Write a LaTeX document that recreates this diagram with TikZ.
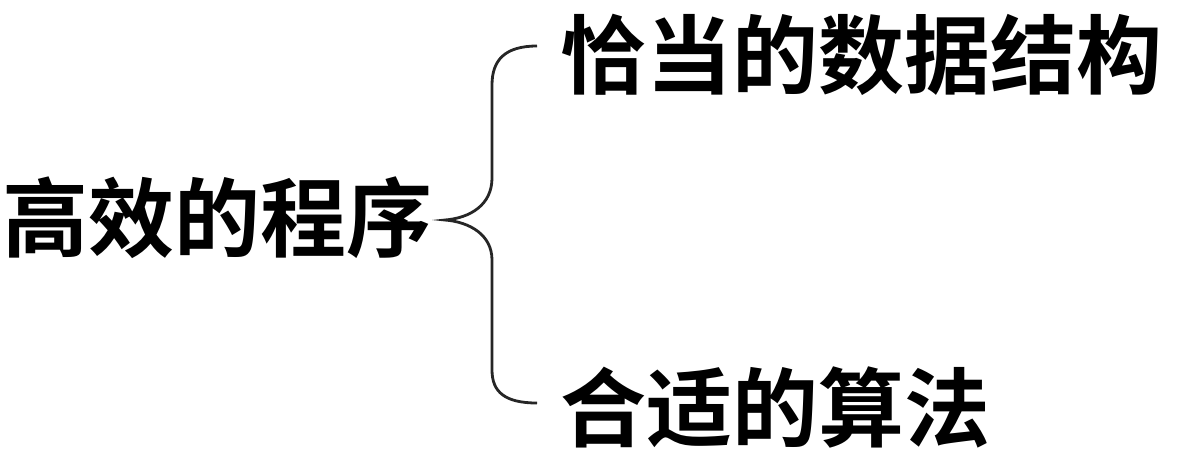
\documentclass[tikz,border=0pt]{standalone}
\usepackage{fontspec}
\newfontfamily\cjk{Noto Sans CJK SC}[BoldFont={Noto Sans CJK SC Bold}]
\begin{document}
\begin{tikzpicture}[x=0.5pt,y=-0.5pt,
  lbl/.style={inner sep=0pt,font=\cjk\bfseries\fontsize{43}{50}\selectfont},
  bracestyle/.style={line width=1.4pt,draw=black!85}]
\useasboundingbox (0,0) rectangle (1177,452);
\node[lbl,anchor=west] (root) at (2,218) {高效的程序};
\node[lbl,anchor=west] (ds) at (560,55) {恰当的数据结构};
\node[lbl,anchor=west] (alg) at (560,407) {合适的算法};
\coordinate (tip) at (445,220);
\coordinate (topend) at (537,46);
\coordinate (botend) at (537,403);
\draw[bracestyle] (topend) .. controls (505,46) and (492,60) .. (492,85)
  -- (492,178) .. controls (492,205) and (470,218) .. (tip)
  .. controls (470,222) and (492,235) .. (492,260)
  -- (492,370) .. controls (492,392) and (505,403) .. (botend);
\end{tikzpicture}
\end{document}
